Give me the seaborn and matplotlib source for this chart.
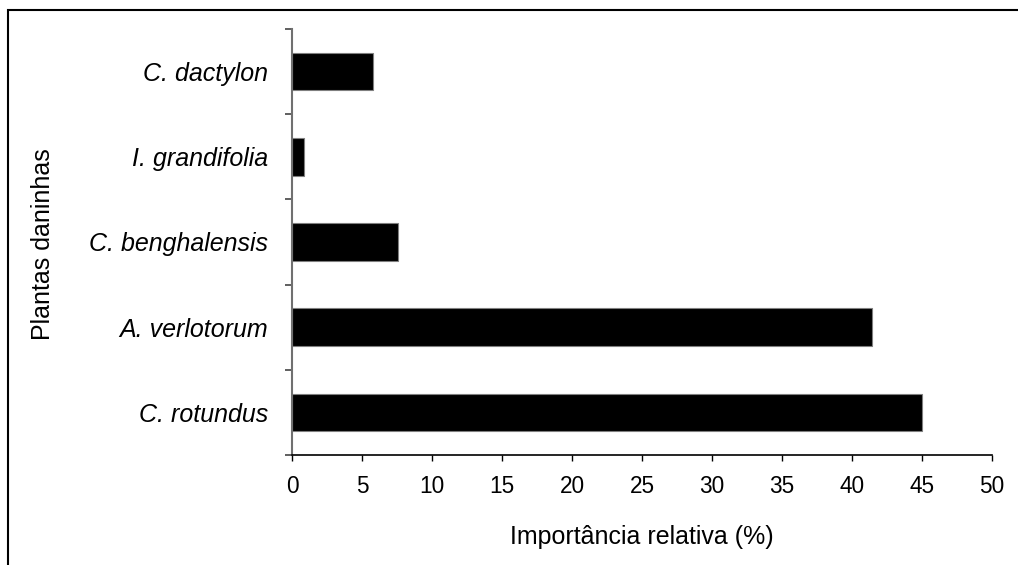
import matplotlib
matplotlib.use("Agg")
import matplotlib.pyplot as plt
import seaborn as sns
import pandas as pd
import numpy as np
from matplotlib.patches import Rectangle

species = ["C. dactylon", "I. grandifolia", "C. benghalensis", "A. verlotorum", "C. rotundus"]
importance = [5.8, 0.85, 7.6, 41.4, 45.0]
xticks = [0, 5, 10, 15, 20, 25, 30, 35, 40, 45, 50]

sns.set_theme(style="white", rc={"text.color": "black", "axes.labelcolor": "black",
                                 "xtick.color": "black", "ytick.color": "black"})
plt.rcParams["font.family"] = ["Liberation Sans", "DejaVu Sans"]

df = pd.DataFrame({"Planta": species, "Importancia": importance})

fig = plt.figure(figsize=(10.18, 5.65), dpi=100)
ax = fig.add_axes([292/1018, 1-455/565, (992-292)/1018, (455-29)/565])

sns.barplot(data=df, y="Planta", x="Importancia", order=species, color="black",
            width=0.44, edgecolor="#7f7f7f", linewidth=0.8, saturation=1, ax=ax)

ax.set_xlim(0, 50)
ax.set_ylim(len(species)-0.5, -0.5)
ax.set_xticks(xticks)
ax.set_xticklabels([str(t) for t in xticks], fontsize=16.3)
ax.set_yticks(range(len(species)))
ax.set_yticklabels(species, fontsize=18, style="italic")
ax.set_yticks(np.arange(-0.5, len(species), 1.0), minor=True)
ax.tick_params(axis="y", which="major", length=0, pad=17, labelcolor="black")
ax.tick_params(axis="y", which="minor", length=5, width=1.2, color="#444444", direction="out", left=True)
ax.tick_params(axis="x", which="major", length=4.5, width=1.0, color="black", direction="out",
               bottom=True, pad=10, labelcolor="black")
ax.tick_params(axis="x", which="minor", bottom=False)

for s in ["top", "right"]:
    ax.spines[s].set_visible(False)
ax.spines["left"].set_color("#707070")
ax.spines["left"].set_linewidth(1.5)
ax.spines["bottom"].set_color("black")
ax.spines["bottom"].set_linewidth(1.2)

ax.set_xlabel("Importância relativa (%)", fontsize=18, labelpad=19, color="black")
ax.set_ylabel("")
fig.text(43/1018, 1-244/565, "Plantas daninhas", rotation=90, fontsize=18,
         ha="center", va="center", color="black")

# outer frame (only left and top visible in reference)
fig.patches.append(Rectangle((8/1018, -0.1), 1.2, 1.1-10/565, transform=fig.transFigure,
                             fill=False, edgecolor="black", linewidth=1.5))

fig.savefig("out.png", dpi=100)
